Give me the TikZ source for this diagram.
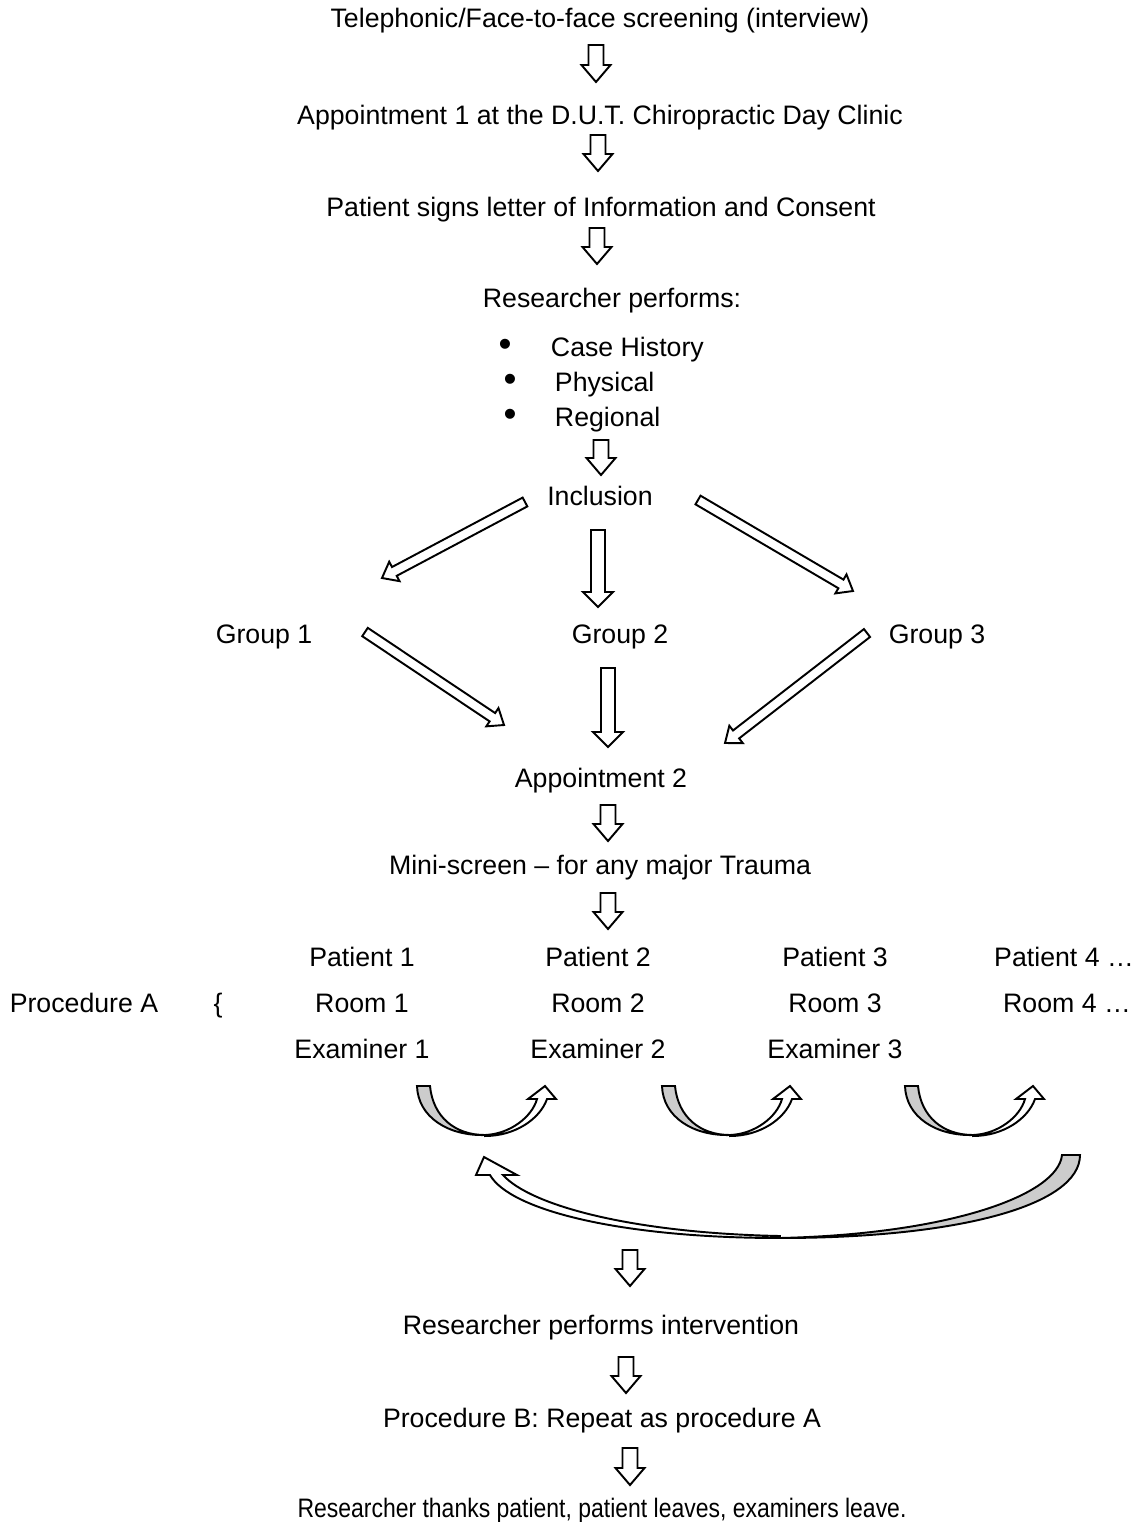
\documentclass[tikz,border=0pt]{standalone}
\usepackage{fontspec}
\setmainfont{Liberation Sans}
\usetikzlibrary{calc}
\newcommand{\px}{0.02cm}
% hollow block arrow: from, to, half shaft, half head, head length (in px)
\newcommand{\blockarrow}[5]{%
  \draw[blockarr] ($(#1)!#3*\px!90:(#2)$)
    -- ($(#2)!#5*\px!(#1)!#3*\px!90:(#2)$)
    -- ($(#2)!#5*\px!(#1)!#4*\px!90:(#2)$)
    -- (#2)
    -- ($(#2)!#5*\px!(#1)!#4*\px!-90:(#2)$)
    -- ($(#2)!#5*\px!(#1)!#3*\px!-90:(#2)$)
    -- ($(#1)!#3*\px!-90:(#2)$) -- cycle;}
\tikzset{
  uarrow/.pic={
    \filldraw[fill=gray!40] (0,0) -- (13,0) .. controls (16,31) and (38,49) .. (68,49)
      .. controls (31,50) and (1,31) .. (0,0) -- cycle;
    \filldraw[fill=white] (68,50) .. controls (98,50) and (123,33) .. (130,13)
      -- (139,13) -- (128,0) -- (111,13) -- (120,13)
      .. controls (115,31) and (93,48) .. (68,49) -- cycle;
  }
}
\begin{document}
\begin{tikzpicture}[x=\px, y=-\px, line width=1.1pt,
  every node/.style={font=\fontsize{15.2}{18}\selectfont, text height=11pt, text depth=3pt, inner sep=0pt},
  blockarr/.style={draw, fill=white}]
	\useasboundingbox (0,0) rectangle (1141,1522);
	
	% Steps at the top
	\node (tele) at (600,20) {Telephonic/Face-to-face screening (interview)};
	\node (app1) at (600,117) {Appointment 1 at the D.U.T. Chiropractic Day Clinic};
	\node (cons) at (601,209) {Patient signs letter of Information and Consent};
	\node (perf) at (612,300) {Researcher performs:};
	\foreach \n/\t/\bx/\tx/\y in {case/Case History/505/550/349, phys/Physical/510/554/384, reg/Regional/510/554/419}
	{\node[font=\fontsize{21}{21}\selectfont] (b\n) at (\bx,\y) {•};
	 \node[anchor=west] (\n) at (\tx,\y) {\t};}
	\node (incl) at (600,498) {Inclusion};
	
	% Groups
	\node (grp1) at (264,636) {Group 1};
	\node (grp2) at (620,636) {Group 2};
	\node (grp3) at (937,636) {Group 3};
	\node (app2) at (601,780) {Appointment 2};
	\node (mini) at (600,867) {Mini-screen – for any major Trauma};
	
	% Procedure A grid
	\foreach \i/\x in {1/362, 2/598, 3/835}
	{\node (pat\i) at (\x,959) {Patient \i};
	 \node (room\i) at (\x,1005) {Room \i};
	 \node (exam\i) at (\x,1051) {Examiner \i};}
	\node (pat4) at (1064,959) {Patient 4 …};
	\node (room4) at (1067,1005) {Room 4 …};
	\node (procA) at (84,1005) {Procedure A};
	\node (brace) at (218,1005) {\{};
	
	% Steps at the bottom
	\node (interv) at (601,1327) {Researcher performs intervention};
	\node (procB) at (602,1420) {Procedure B: Repeat as procedure A};
	\node (thanks) at (602,1510) {\scalebox{0.86}[1]{Researcher thanks patient, patient leaves, examiners leave.}};
	
	% Small down arrows
	\foreach \n/\x/\ya/\yb in {a/596/45/82, b/598/135/171, c/597/228/264, d/601/440/475, e/608/805/841,
	  f/608/893/929, g/630/1250/1286, h/626/1357/1393, i/630/1448/1485}
	{\coordinate (s\n) at (\x,\ya);
	 \coordinate (e\n) at (\x,\yb);
	 \blockarrow{s\n}{e\n}{7.5}{14.5}{17}}
	
	% Long down arrows
	\coordinate (incl-s) at (598,530);
	\coordinate (incl-e) at (598,607);
	\coordinate (grp2-s) at (608,668);
	\coordinate (grp2-e) at (608,747);
	\blockarrow{incl-s}{incl-e}{7}{15}{15}
	\blockarrow{grp2-s}{grp2-e}{7}{15}{15}
	
	% Slanted arrows
	\coordinate (incl-l) at (525,502);
	\coordinate (grp1-i) at (382,578);
	\coordinate (incl-r) at (698,500);
	\coordinate (grp3-i) at (853,591);
	\coordinate (grp1-o) at (365,632);
	\coordinate (app2-l) at (504,725);
	\coordinate (grp3-o) at (867,633);
	\coordinate (app2-r) at (725,743);
	\blockarrow{incl-l}{grp1-i}{5}{11}{14}
	\blockarrow{incl-r}{grp3-i}{5}{11}{14}
	\blockarrow{grp1-o}{app2-l}{5}{11}{14}
	\blockarrow{grp3-o}{app2-r}{5}{11}{14}
	
	% Curved arrows between examiners
	\foreach \x in {417, 662, 905}
	\pic at (\x,1086) {uarrow};
	
	% Long curved arrow back
	\filldraw[fill=gray!40] (1062,1155) -- (1080,1155) .. controls (1080,1205) and (960,1238) .. (780,1238)
	  .. controls (950,1234) and (1058,1195) .. (1062,1155) -- cycle;
	\filldraw[fill=white] (780,1238) .. controls (620,1238) and (510,1210) .. (490,1175)
	  -- (476,1175) -- (484,1157) -- (517,1175) -- (503,1175)
	  .. controls (530,1205) and (630,1233) .. (780,1236) -- cycle;
\end{tikzpicture}
\end{document}
